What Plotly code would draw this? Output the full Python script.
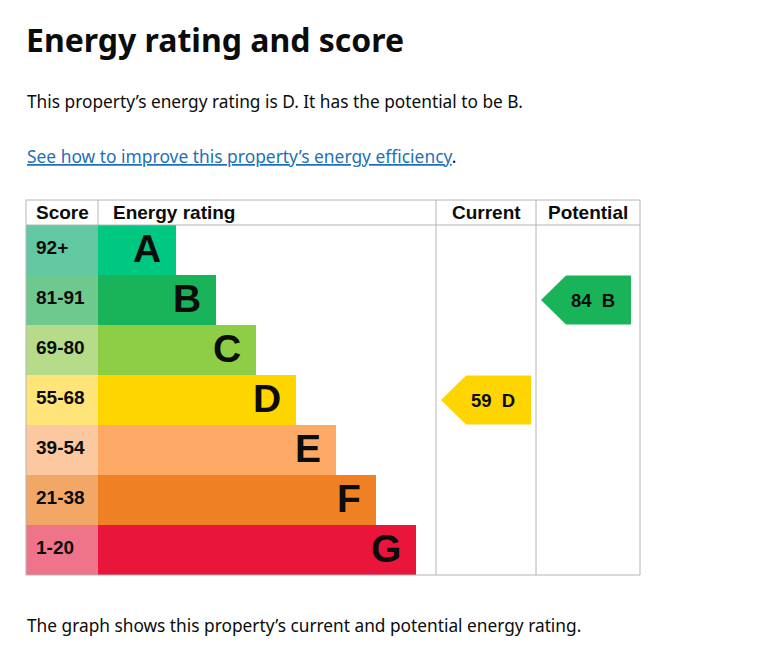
import plotly.graph_objects as go

# data
bands = ["A", "B", "C", "D", "E", "F", "G"]
score_ranges = ["92+", "81-91", "69-80", "55-68", "39-54", "21-38", "1-20"]
band_min = [92, 81, 69, 55, 39, 21, 1]
band_colors = ["#00c781", "#19b459", "#8dce46", "#ffd500", "#fcaa65", "#ef8023", "#e9153b"]
score_colors = ["#62c8a2", "#6ec98f", "#b6dc8a", "#ffe47a", "#fcc8a0", "#f3a766", "#ef7489"]
current_score = 59
potential_score = 84

# layout (pixel space of the page; the body has an 8px margin)
W, H = 766, 656
PAD = 8
TBL_L, TBL_R, TBL_T, TBL_B = 26, 640, 200, 575
HEAD_B = 225
ROW_H = 50
SCORE_R = 98
CUR_L, POT_L = 436, 536
BAR_MIN, BAR_STEP = 78, 40
GREY = "#b1b4b6"
INK = "#0b0c0c"
BODY = "Noto Sans"
ARIAL = "Liberation Sans"


def band_of(score):
    for i, m in enumerate(band_min):
        if score >= m:
            return i
    return len(bands) - 1


row_y = [HEAD_B + ROW_H * (i + 0.5) for i in range(len(bands))]
bar_len = [BAR_MIN + BAR_STEP * i for i in range(len(bands))]

fig = go.Figure()

# score column cells
fig.add_trace(go.Bar(
    y=row_y, x=[SCORE_R - TBL_L] * len(bands), base=TBL_L,
    orientation="h", width=ROW_H, marker_color=score_colors,
    marker_line_width=0, hoverinfo="skip", showlegend=False
))

# rating bars
fig.add_trace(go.Bar(
    y=row_y, x=bar_len, base=SCORE_R,
    orientation="h", width=ROW_H, marker_color=band_colors,
    marker_line_width=0, hoverinfo="skip", showlegend=False
))

annotations = []
for i in range(len(bands)):
    annotations.append(dict(
        x=34, y=row_y[i] - 2.5, text="<b>%s</b>" % score_ranges[i], showarrow=False,
        xanchor="left", yanchor="middle", font=dict(family=ARIAL, size=19, color=INK)
    ))
    annotations.append(dict(
        x=SCORE_R + bar_len[i] - 13, y=row_y[i] - 1.5, text="<b>%s</b>" % bands[i], showarrow=False,
        xanchor="right", yanchor="middle", font=dict(family=ARIAL, size=39, color=INK)
    ))


# current / potential arrows
def arrow(score, col_l):
    i = band_of(score)
    yc = row_y[i]
    top, bot = yc - ROW_H / 2 + 0.5, yc + ROW_H / 2 - 0.5
    tip = col_l + 5
    neck = tip + 25
    right = col_l + 95
    fig.add_trace(go.Scatter(
        x=[tip, neck, right, right, neck, tip],
        y=[yc, top, top, bot, bot, yc],
        fill="toself", fillcolor=band_colors[i], mode="lines",
        line=dict(width=0, color=band_colors[i]), hoverinfo="skip", showlegend=False
    ))
    annotations.append(dict(
        x=col_l + 57, y=yc, text="<b>%d&nbsp;&nbsp;%s</b>" % (score, bands[i]), showarrow=False,
        xanchor="center", yanchor="middle", font=dict(family=ARIAL, size=18.5, color=INK)
    ))


arrow(current_score, CUR_L)
arrow(potential_score, POT_L)

# header
hy = (TBL_T + HEAD_B) / 2
for txt, x, anc in [("Score", 34, "left"), ("Energy rating", 111, "left"),
                    ("Current", (CUR_L + POT_L) / 2, "center"),
                    ("Potential", (POT_L + TBL_R) / 2, "center")]:
    annotations.append(dict(
        x=x, y=hy, text="<b>%s</b>" % txt, showarrow=False, xanchor=anc, yanchor="middle",
        font=dict(family=ARIAL, size=19, color=INK)
    ))

# page text
annotations.append(dict(
    x=24, y=39, text="<b>Energy rating and score</b>", showarrow=False, xanchor="left", yanchor="middle",
    font=dict(family=BODY, size=32, color=INK)
))
annotations.append(dict(
    x=25, y=101, text="This property’s energy rating is D. It has the potential to be B.", showarrow=False,
    xanchor="left", yanchor="middle", font=dict(family=BODY, size=17.3, color=INK)
))
annotations.append(dict(
    x=25, y=156,
    text="<span style='color:#1d70b8'><u>See how to improve this property’s energy efficiency</u></span>.",
    showarrow=False, xanchor="left", yanchor="middle", font=dict(family=BODY, size=17.4, color=INK)
))
annotations.append(dict(
    x=25, y=625, text="The graph shows this property’s current and potential energy rating.", showarrow=False,
    xanchor="left", yanchor="middle", font=dict(family=BODY, size=17.3, color=INK)
))

# table lines
line = dict(color=GREY, width=1)
shapes = [
    dict(type="rect", x0=TBL_L, x1=TBL_R, y0=TBL_T, y1=TBL_B, line=line, layer="above"),
    dict(type="line", x0=TBL_L, x1=TBL_R, y0=HEAD_B, y1=HEAD_B, line=line, layer="above"),
    dict(type="line", x0=SCORE_R, x1=SCORE_R, y0=TBL_T, y1=HEAD_B, line=line, layer="above"),
    dict(type="line", x0=CUR_L, x1=CUR_L, y0=TBL_T, y1=TBL_B, line=line, layer="above"),
    dict(type="line", x0=POT_L, x1=POT_L, y0=TBL_T, y1=TBL_B, line=line, layer="above"),
]

fig.update_layout(
    width=W - 2 * PAD, height=H - 2 * PAD, margin=dict(l=0, r=0, t=0, b=0),
    paper_bgcolor="white", plot_bgcolor="white",
    barmode="overlay", bargap=0,
    xaxis=dict(range=[PAD, W - PAD], visible=False, fixedrange=True),
    yaxis=dict(range=[H - PAD, PAD], visible=False, fixedrange=True),
    annotations=annotations, shapes=shapes,
)

fig.write_html("out.html", config={"displayModeBar": False})
